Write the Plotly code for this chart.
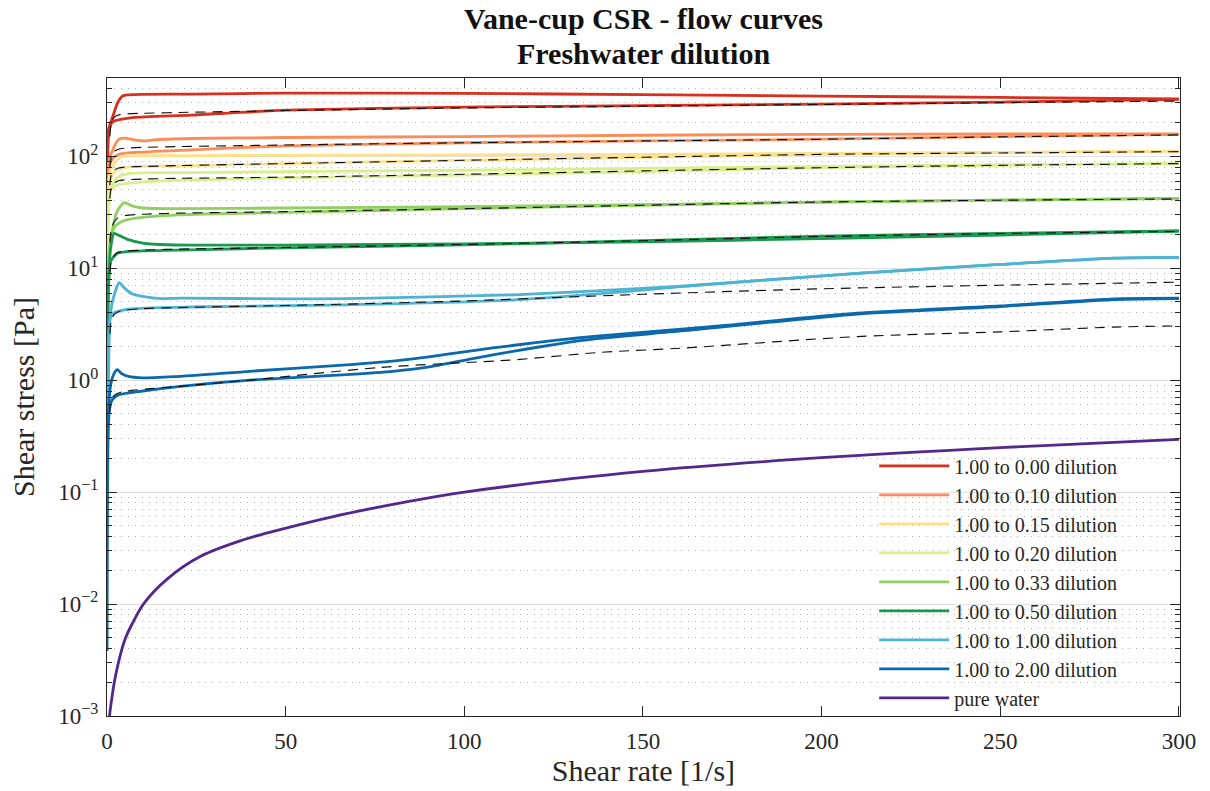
import plotly.graph_objects as go
import numpy as np

# ---------------- data ----------------
labels = ["1.00 to 0.00 dilution", "1.00 to 0.10 dilution", "1.00 to 0.15 dilution",
          "1.00 to 0.20 dilution", "1.00 to 0.33 dilution", "1.00 to 0.50 dilution",
          "1.00 to 1.00 dilution", "1.00 to 2.00 dilution"]
colors = ["#d7301f", "#fc8d59", "#fee08b", "#d9ef8b", "#91cf60", "#1a9850", "#4eb3d3", "#0a69ad"]

# up-sweeps (shear rate, stress)
red_up_x = [0.02, 0.36, 1.6, 2.9, 4.3, 5.2, 10, 23.5, 50, 100, 150, 200, 250, 300]
red_up_y = [40, 171, 225, 297, 344, 352, 357, 359, 366, 364, 355, 345, 335, 325]
or_up_x = [0.02, 0.36, 2.0, 3.4, 5.0, 7.6, 10.4, 13.2, 23.5, 50, 100, 150, 200, 250, 300]
or_up_y = [20, 86, 122, 142, 145, 140, 137, 140, 144, 147, 150, 154, 157, 158, 158]
ye_up_x = [0.02, 0.5, 1, 2.8, 4.7, 10, 23.5, 50, 100, 150, 200, 250, 300]
ye_up_y = [10, 60, 75, 92.5, 100, 101, 101, 102, 103, 104, 106, 108, 111]
li_up_x = [0.02, 0.5, 1.5, 3, 6, 10, 23.5, 50, 100, 150, 200, 250, 300]
li_up_y = [8, 40, 55, 65, 70, 71, 71.5, 73, 75, 78, 81, 84, 86]
gr_up_x = [0.02, 0.5, 1.5, 3, 4.8, 7, 10, 20, 50, 100, 150, 200, 250, 300]
gr_up_y = [5, 12, 22, 33, 38.5, 36, 34.5, 34, 34.5, 35.5, 37, 39, 40.5, 42]
dg_up_x = [0.02, 0.5, 1, 2.0, 3.5, 5.7, 10.4, 17, 23.4, 50, 100, 150, 200, 250, 300]
dg_up_y = [2, 8, 15, 20.5, 19.5, 18.1, 16.7, 16.2, 16.1, 16.1, 16.5, 17.2, 18.4, 19.8, 21.5]
lb_up_x = [0.02, 0.5, 1.5, 3.4, 5, 7, 10.4, 15, 20.6, 50, 67, 114, 138, 160.7, 210, 250, 282, 300]
lb_up_y = [0.5, 2.5, 5, 7.43, 6.6, 5.9, 5.56, 5.35, 5.4, 5.32, 5.35, 5.78, 6.3, 6.9, 9.0, 10.8, 12.3, 12.5]
db_up_x = [0.02, 0.5, 1, 2, 2.9, 4, 6, 10, 20.6, 40, 67, 80, 90.6, 102, 114, 126, 137, 160.7,
           173.7, 210, 250, 282, 300]
db_up_y = [0.3, 0.6, 0.9, 1.15, 1.24, 1.15, 1.08, 1.05, 1.08, 1.2, 1.37, 1.48, 1.62, 1.83, 2.05,
           2.28, 2.47, 2.85, 3.1, 3.96, 4.6, 5.32, 5.4]

# down-sweeps
red_dn_x = [0.02, 0.6, 1.6, 3.8, 7.6, 23.5, 50, 100, 150, 200, 250, 300]
red_dn_y = [25, 171, 203, 213, 222, 233, 258, 275, 283, 292, 305, 322]
or_dn_x = [0.02, 0.36, 1.6, 3.8, 7.6, 23.5, 50, 100, 150, 200, 250, 300]
or_dn_y = [15, 75, 96, 105, 108, 114, 124, 132, 137, 142, 150, 157]
ye_dn_x = [0.02, 0.5, 2, 5.7, 23.5, 50, 100, 150, 200, 250, 300]
ye_dn_y = [8, 55, 72.8, 79.6, 82.3, 86, 92, 98, 104, 108, 111]
li_dn_x = [0.02, 0.5, 1, 2.9, 7.6, 23.4, 50, 100, 150, 200, 250, 300]
li_dn_y = [6, 35, 50, 55.4, 58, 61.4, 64, 68, 73, 79, 83, 86]
gr_dn_x = [0.02, 0.5, 1, 2, 4, 8, 20, 50, 100, 150, 200, 250, 300]
gr_dn_y = [3, 12, 18, 23, 26, 28, 30, 31.5, 34, 36.5, 39, 40.5, 42]
dg_dn_x = [0.02, 0.5, 1, 2.9, 5.7, 23.4, 50, 100, 150, 200, 250, 300]
dg_dn_y = [1.5, 8, 11.5, 13.6, 14.1, 14.6, 15.2, 16.2, 17.6, 19.3, 20.5, 21.5]
lb_dn_x = [0.02, 0.5, 1, 2, 4.8, 10.4, 23.4, 67, 114, 146, 160.7, 210, 250, 282, 300]
lb_dn_y = [0.13, 1.5, 3.7, 4.0, 4.25, 4.4, 4.5, 4.71, 5.21, 6.2, 6.85, 9.0, 10.8, 12.3, 12.5]
db_dn_x = [0.02, 0.3, 0.7, 1.5, 3.3, 10, 20.6, 40, 67, 80, 90.6, 102, 114, 126, 137, 160.7,
           210, 250, 282, 300]
db_dn_y = [0.0038, 0.3, 0.55, 0.67, 0.74, 0.80, 0.88, 1.0, 1.12, 1.2, 1.32, 1.55, 1.82, 2.1,
           2.35, 2.75, 3.9, 4.55, 5.25, 5.35]

# fitted model curves (dashed)
fit_x = [0.8, 1.2, 2, 3, 5, 10, 20, 50, 100, 150, 200, 250, 300]
red_fit_y = [150, 195, 222, 232, 238, 242, 246, 256, 270, 280, 290, 301, 311]
or_fit_y = [80, 98, 110, 115, 118, 120, 122, 126, 132, 137, 142, 149, 155]
ye_fit_y = [55, 68, 75, 78, 80, 81, 82.5, 86, 92, 98, 104, 107, 110]
li_fit_y = [42, 52, 57, 60, 61.5, 62.5, 63.5, 65, 69, 74, 79, 83, 86]
gr_fit_y = [17, 22, 26, 28, 29.5, 30.3, 31, 32, 34, 36.5, 39, 40.5, 41.5]
dg_fit_y = [9, 11.5, 13, 13.8, 14.2, 14.5, 14.8, 15.3, 16.3, 17.6, 19.2, 20.4, 21.3]
lb_fit_y = [2.6, 3.4, 3.85, 4.05, 4.2, 4.35, 4.45, 4.64, 5.1, 5.85, 6.55, 7.05, 7.5]
db_fit_x = [0.7, 1, 1.5, 2.5, 4, 7, 12, 20, 40, 76.6, 114, 138, 160.7, 210, 250, 282, 300]
db_fit_y = [0.5, 0.62, 0.7, 0.75, 0.78, 0.81, 0.84, 0.88, 1.0, 1.30, 1.52, 1.77, 1.93, 2.45, 2.7, 2.98, 3.05]

# pure water
water_x = [0.7, 1, 2.4, 5, 7.6, 10.4, 16.9, 26.2, 38.4, 44.9, 63.6, 82.3, 100, 150, 200, 250, 300]
water_y = [0.001, 0.0012, 0.0023, 0.0048, 0.0072, 0.0102, 0.0168, 0.0267, 0.0377, 0.0432,
           0.0608, 0.080, 0.1, 0.153, 0.203, 0.25, 0.296]
water_label = "pure water"
water_color = "#54278f"

title_lines = ["Vane-cup CSR - flow curves", "Freshwater dilution"]
ytick_vals = [1e-3, 1e-2, 1e-1, 1e0, 1e1, 1e2]
ytick_text = ["10<sup>\u22123</sup>", "10<sup>\u22122</sup>", "10<sup>\u22121</sup>",
              "10<sup>0</sup>", "10<sup>1</sup>", "10<sup>2</sup>"]
xtick_vals = [0, 50, 100, 150, 200, 250, 300]

ups = [(red_up_x, red_up_y), (or_up_x, or_up_y), (ye_up_x, ye_up_y), (li_up_x, li_up_y),
       (gr_up_x, gr_up_y), (dg_up_x, dg_up_y), (lb_up_x, lb_up_y), (db_up_x, db_up_y)]
downs = [(red_dn_x, red_dn_y), (or_dn_x, or_dn_y), (ye_dn_x, ye_dn_y), (li_dn_x, li_dn_y),
         (gr_dn_x, gr_dn_y), (dg_dn_x, dg_dn_y), (lb_dn_x, lb_dn_y), (db_dn_x, db_dn_y)]
fits = [(fit_x, red_fit_y), (fit_x, or_fit_y), (fit_x, ye_fit_y), (fit_x, li_fit_y),
        (fit_x, gr_fit_y), (fit_x, dg_fit_y), (fit_x, lb_fit_y), (db_fit_x, db_fit_y)]

FONT = "Liberation Serif"
fig = go.Figure()

for lab, col, (ux, uy), (dx, dy) in zip(labels, colors, ups, downs):
    fig.add_trace(go.Scatter(x=ux, y=uy, mode="lines", name=lab, legendgroup=lab,
                             line=dict(color=col, width=2.8, shape="spline", smoothing=0.6)))
    fig.add_trace(go.Scatter(x=dx, y=dy, mode="lines", name=lab, legendgroup=lab,
                             showlegend=False,
                             line=dict(color=col, width=2.8, shape="spline", smoothing=0.6)))

for fx, fy in fits:
    fig.add_trace(go.Scatter(x=fx, y=fy, mode="lines", showlegend=False, hoverinfo="skip",
                             line=dict(color="#111111", width=1.15, dash="10px,7px",
                                       shape="spline", smoothing=0.8)))

fig.add_trace(go.Scatter(x=water_x, y=water_y, mode="lines", name=water_label,
                         line=dict(color=water_color, width=2.8, shape="spline", smoothing=1.0)))

minor_vals = [m * 10.0 ** e for e in range(-3, 3) for m in range(2, 10)]

fig.update_layout(
    width=1210, height=791,
    margin=dict(l=107, r=30, t=78, b=73),
    plot_bgcolor="white", paper_bgcolor="white",
    font=dict(family=FONT, color="#262626", size=20),
    showlegend=True,
    legend=dict(x=0.715, xanchor="left", y=0.4225, yanchor="top",
                bgcolor="rgba(0,0,0,0)", borderwidth=0,
                font=dict(family=FONT, size=20, color="#262626"),
                itemwidth=70, tracegroupgap=0),
    annotations=[
        dict(text="<b>" + title_lines[0] + "</b>", x=0.5, y=1.094, xref="paper", yref="paper",
             xanchor="center", yanchor="middle", showarrow=False,
             font=dict(family=FONT, size=30, color="#111111")),
        dict(text="<b>" + title_lines[1] + "</b>", x=0.5, y=1.039, xref="paper", yref="paper",
             xanchor="center", yanchor="middle", showarrow=False,
             font=dict(family=FONT, size=30, color="#111111")),
    ],
)

fig.update_xaxes(
    range=[0, 300.3], tickvals=xtick_vals, ticks="inside", ticklen=10, tickwidth=1,
    tickcolor="#262626", showline=True, linecolor="#262626", linewidth=1, mirror="ticks",
    showgrid=False, zeroline=False, ticklabelstandoff=4,
    tickfont=dict(family=FONT, size=23, color="#262626"),
    title=dict(text="Shear rate [1/s]", font=dict(family=FONT, size=30, color="#262626"), standoff=4),
)
fig.update_yaxes(
    type="log", range=[-3, np.log10(500)], tickvals=ytick_vals, ticktext=ytick_text,
    ticks="inside", ticklen=10, tickwidth=1, tickcolor="#262626",
    showline=True, linecolor="#262626", linewidth=1, mirror="ticks",
    showgrid=True, gridcolor="#e2e2e2", gridwidth=1, zeroline=False, ticklabelstandoff=3,
    tickfont=dict(family=FONT, size=23, color="#262626"),
    title=dict(text="Shear stress [Pa]", font=dict(family=FONT, size=30, color="#262626"), standoff=14),
    minor=dict(tickvals=minor_vals, ticks="inside", ticklen=5, tickcolor="#262626",
               showgrid=True, gridcolor="#b4b4b4", griddash="1px,6px", gridwidth=1),
)

fig.write_html("out.html")
